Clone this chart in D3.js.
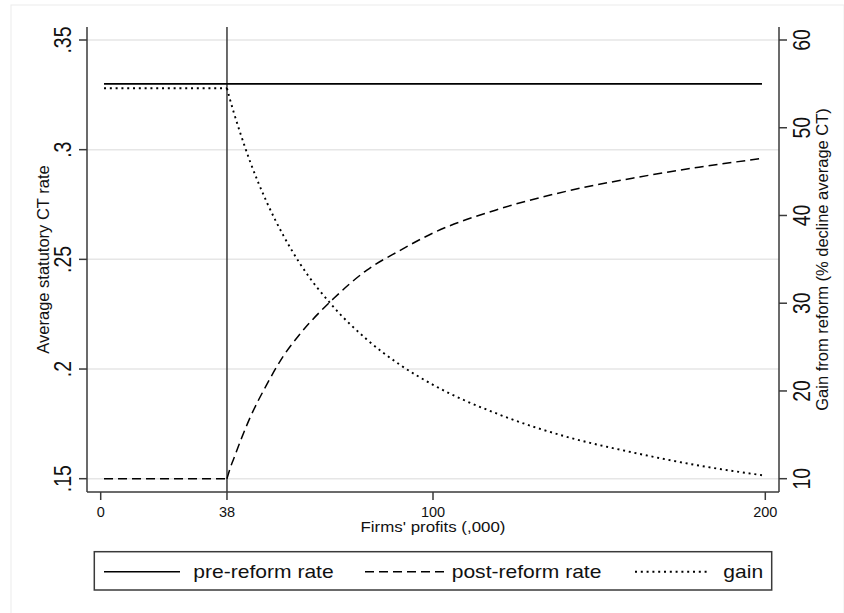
<!DOCTYPE html>
<html>
<head>
<meta charset="utf-8">
<script src="https://cdn.jsdelivr.net/npm/d3@7"></script>
<style>
  html, body { margin: 0; padding: 0; background: #fff; }
  svg { display: block; font-family: "Liberation Sans", Arial, Helvetica, sans-serif; }
</style>
</head>
<body>
<svg id="chart" width="844" height="613"></svg>
<script>
// ---- data ----
const profits  = [1, 38, 39, 40, 42, 45, 50, 55, 60, 70, 80, 90, 100, 120, 140, 160, 180, 199];
const preRate  = [0.33, 0.33, 0.33, 0.33, 0.33, 0.33, 0.33, 0.33, 0.33, 0.33, 0.33, 0.33, 0.33, 0.33, 0.33, 0.33, 0.33, 0.33];
const postRate = [0.15, 0.15, 0.155, 0.159, 0.167, 0.178, 0.193, 0.206, 0.216, 0.232, 0.245, 0.254, 0.262, 0.273, 0.281, 0.287, 0.292, 0.296];
const gain     = [54.5, 54.5, 53.1, 51.8, 49.4, 46.1, 41.5, 37.7, 34.5, 29.6, 25.9, 23.0, 20.7, 17.3, 14.8, 13.0, 11.5, 10.4];
const threshold = 38;

const xTicks  = [0, 38, 100, 200];
const yLTicks = [0.15, 0.2, 0.25, 0.3, 0.35];
const yLTickLabels = [".15", ".2", ".25", ".3", ".35"];
const yRTicks = [10, 20, 30, 40, 50, 60];

const xTitle  = "Firms' profits (,000)";
const yLTitle = "Average statutory CT rate";
const yRTitle = "Gain from reform (% decline average CT)";
const legendLabels = ["pre-reform rate", "post-reform rate", "gain"];

// ---- layout ----
const svg = d3.select("#chart");
const plot = { left: 87, right: 779, top: 27, bottom: 492 };

const x  = d3.scaleLinear().domain([0, 200]).range([100.7, 765.3]);
const yL = d3.scaleLinear().domain([0.15, 0.35]).range([478.7, 40]);
const yR = d3.scaleLinear().domain([10, 60]).range([478.7, 40]);

// outer graph region outline
svg.append("rect").attr("x", 11).attr("y", 5).attr("width", 833).attr("height", 640)
  .attr("fill", "none").attr("stroke", "#ececec").attr("stroke-width", 1);

// grid lines
svg.append("g").selectAll("line").data(yLTicks).join("line")
  .attr("x1", plot.left).attr("x2", plot.right)
  .attr("y1", d => yL(d)).attr("y2", d => yL(d))
  .attr("stroke", "#e6e6e6").attr("stroke-width", 1.5);

// vertical threshold line
svg.append("line")
  .attr("x1", x(threshold)).attr("x2", x(threshold))
  .attr("y1", plot.top).attr("y2", plot.bottom)
  .attr("stroke", "#3a3a3a").attr("stroke-width", 1.5);

const rows = profits.map((p, i) => ({ p, pre: preRate[i], post: postRate[i], gain: gain[i] }));
const before = rows.filter(d => d.p <= threshold);
const after  = rows.filter(d => d.p >= threshold);

function drawSeries(key, scale, dash, width) {
  const flat = d3.line().x(d => x(d.p)).y(d => scale(d[key]));
  const curved = d3.line().x(d => x(d.p)).y(d => scale(d[key])).curve(d3.curveMonotoneX);
  [[before, flat], [after, curved]].forEach(([data, gen]) => {
    svg.append("path").datum(data).attr("d", gen)
      .attr("fill", "none").attr("stroke", "#000").attr("stroke-width", width)
      .attr("stroke-dasharray", dash);
  });
}
drawSeries("post", yL, "9,5", 1.5);
drawSeries("gain", yR, "2,3.8", 1.9);
svg.append("path").datum(rows)
  .attr("d", d3.line().x(d => x(d.p)).y(d => yL(d.pre)))
  .attr("fill", "none").attr("stroke", "#000").attr("stroke-width", 1.6);

// axes lines
const axisColor = "#3a3a3a";
svg.append("line").attr("x1", plot.left).attr("x2", plot.left).attr("y1", plot.top).attr("y2", plot.bottom)
  .attr("stroke", axisColor).attr("stroke-width", 1.5);
svg.append("line").attr("x1", plot.right).attr("x2", plot.right).attr("y1", plot.top).attr("y2", plot.bottom)
  .attr("stroke", axisColor).attr("stroke-width", 1.5);
svg.append("line").attr("x1", plot.left).attr("x2", plot.right).attr("y1", plot.bottom).attr("y2", plot.bottom)
  .attr("stroke", axisColor).attr("stroke-width", 1.5);

// ticks
svg.append("g").selectAll("line").data(yLTicks).join("line")
  .attr("x1", plot.left - 8).attr("x2", plot.left).attr("y1", d => yL(d)).attr("y2", d => yL(d))
  .attr("stroke", axisColor).attr("stroke-width", 1.5);
svg.append("g").selectAll("line").data(yRTicks).join("line")
  .attr("x1", plot.right).attr("x2", plot.right + 8).attr("y1", d => yR(d)).attr("y2", d => yR(d))
  .attr("stroke", axisColor).attr("stroke-width", 1.5);
svg.append("g").selectAll("line").data(xTicks).join("line")
  .attr("x1", d => x(d)).attr("x2", d => x(d)).attr("y1", plot.bottom).attr("y2", plot.bottom + 8)
  .attr("stroke", axisColor).attr("stroke-width", 1.5);

// tick labels
svg.append("g").selectAll("text").data(yLTicks).join("text")
  .attr("transform", d => `translate(71,${yL(d)}) scale(1.2,1) rotate(-90)`)
  .attr("text-anchor", "middle").attr("font-size", 19.5).attr("fill", "#111")
  .text((d, i) => yLTickLabels[i]);
svg.append("g").selectAll("text").data(yRTicks).join("text")
  .attr("transform", d => `translate(810,${yR(d)}) scale(1.2,1) rotate(-90)`)
  .attr("text-anchor", "middle").attr("font-size", 19.5).attr("fill", "#111")
  .text(d => d);
svg.append("g").selectAll("text").data(xTicks).join("text")
  .attr("x", d => x(d)).attr("y", 516.5)
  .attr("text-anchor", "middle").attr("font-size", 14.5).attr("fill", "#111")
  .text(d => d);

// axis titles
svg.append("text").attr("transform", `translate(${x(100)},532) scale(1.127,1)`)
  .attr("text-anchor", "middle").attr("font-size", 15).attr("fill", "#111").text(xTitle);
svg.append("text").attr("transform", `translate(49,259.5) rotate(-90)`)
  .attr("text-anchor", "middle").attr("font-size", 16.5).attr("fill", "#111").text(yLTitle);
svg.append("text").attr("transform", `translate(828,259.5) rotate(-90)`)
  .attr("text-anchor", "middle").attr("font-size", 16.5).attr("fill", "#111").text(yRTitle);

// legend
const lg = svg.append("g");
lg.append("rect").attr("x", 94.3).attr("y", 551.7).attr("width", 677.4).attr("height", 38.3)
  .attr("fill", "#fff").attr("stroke", "#3a3a3a").attr("stroke-width", 1.5);
const legendItems = [
  { x1: 104, x2: 180, tx: 193.3, dash: null, w: 1.6 },
  { x1: 365, x2: 446, tx: 451.7, dash: "9,5", w: 1.6 },
  { x1: 635, x2: 707, tx: 723.3, dash: "2,3.8", w: 1.9 }
];
legendItems.forEach((it, i) => {
  lg.append("line").attr("x1", it.x1).attr("x2", it.x2).attr("y1", 571.7).attr("y2", 571.7)
    .attr("stroke", "#000").attr("stroke-width", it.w).attr("stroke-dasharray", it.dash);
  lg.append("text").attr("transform", `translate(${it.tx},578) scale(1.17,1)`)
    .attr("font-size", 18).attr("fill", "#111").text(legendLabels[i]);
});
</script>
</body>
</html>
